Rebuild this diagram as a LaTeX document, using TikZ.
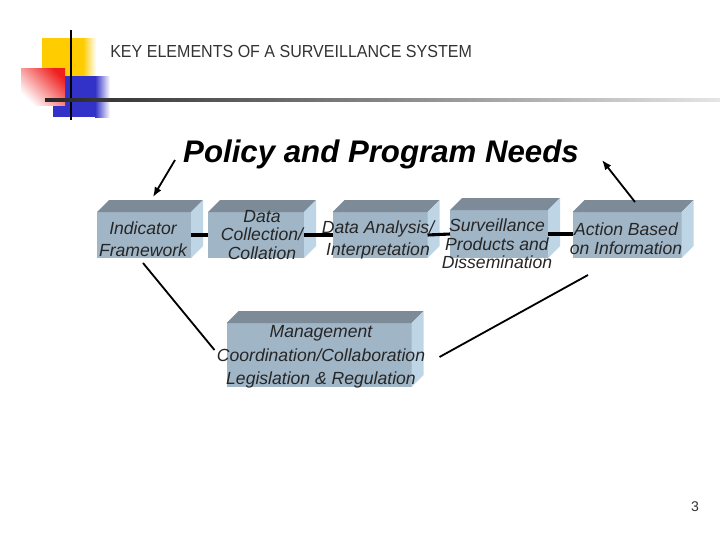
\documentclass[tikz,border=0pt]{standalone}
\usepackage{fontspec}
\usepackage{graphicx}
\setmainfont{Liberation Sans}
\usetikzlibrary{arrows.meta,calc}

\definecolor{boxfront}{RGB}{160,181,198}
\definecolor{boxtop}{RGB}{124,139,151}
\definecolor{boxside}{RGB}{190,213,229}
\definecolor{logoyellow}{RGB}{255,204,0}
\definecolor{logored}{RGB}{240,30,30}
\definecolor{logoblue}{RGB}{50,50,200}

\tikzset{
  face/.style 2 args={fill=boxfront, inner sep=0pt, outer sep=0pt,
    minimum width=#1*0.025cm, minimum height=#2*0.025cm},
  boxlabel/.style={align=center, text=black!85, inner sep=0pt,
    font=\fontsize{12.5}{13.3}\selectfont\itshape},
  widelabel/.style={boxlabel, font=\fontsize{12.5}{15.6}\selectfont\itshape},
  link/.style={line width=2.2pt},
  pointer/.style={line width=1.3pt, -{Latex[length=7pt,width=5.5pt]}},
  tie/.style={line width=1.3pt},
}

% top and side of a block
\newcommand{\cubeface}[1]{%
  \fill[boxtop] (#1.north west) -- ++(12,-12) -- ($(#1.north east)+(12,-12)$) -- (#1.north east) -- cycle;
  \fill[boxside] (#1.north east) -- ++(12,-12) -- ($(#1.south east)+(12,-12)$) -- (#1.south east) -- cycle;
}

\begin{document}
\begin{tikzpicture}[x=0.025cm, y=-0.025cm]
  \useasboundingbox (0,0) rectangle (720,540);
  % Logo squares
  \fill[logoyellow] (42,38) rectangle (83,76);
  \shade[left color=logoyellow, right color=white] (83,38) rectangle (96,76);
  \fill[logoblue] (53,76) rectangle (95,117);
  \shade[left color=logoblue, right color=white] (95,76) rectangle (110,117);
  \shade[left color=white, right color=logored, shading angle=135] (21,68) rectangle (65,105);
  % Logo lines
  \draw[line width=1.6pt] (71,30) -- (71,120);
  \shade[left color=black!85, right color=black!10] (45,98.5) rectangle (720,101.5);
  % Headings
  \node[anchor=west, inner sep=0pt, text=black!80, font=\fontsize{12.4}{14}\selectfont] (head) at (110,51)
    {\scalebox{0.92}[1]{KEY ELEMENTS OF A SURVEILLANCE SYSTEM}};
  \node[anchor=base, inner sep=0pt, font=\fontsize{22.2}{26}\selectfont\bfseries\itshape] (needs) at (381,162)
    {Policy and Program Needs};
  % Blocks
  \node[face={94}{46}] (ind) at (144,235) {};
  \node[face={96}{46}] (coll) at (256,235) {};
  \node[face={95}{46}] (ana) at (380,235) {};
  \node[face={98}{48}] (surv) at (499,234) {};
  \node[face={109}{46}] (act) at (627,235) {};
  \node[face={185}{64}] (mgmt) at (319,355) {};
  \foreach \b in {ind,coll,ana,surv,act,mgmt}
    {\cubeface{\b}}
  % Block texts
  \node[widelabel] (indtxt) at (143,239) {Indicator\\Framework};
  \node[boxlabel] (colltxt) at (262,235) {Data\\Collection/\\Collation};
  \node[widelabel] (anatxt) at (378,240) {Data Analysis/\\Interpretation};
  \node[boxlabel] (survtxt) at (497,244) {Surveillance\\Products and\\Dissemination};
  \node[boxlabel] (acttxt) at (626,239) {Action Based\\on Information};
  \node[boxlabel, font=\fontsize{12.5}{16.7}\selectfont\itshape] (mgmttxt) at (321,357)
    {Management\\Coordination/Collaboration\\Legislation \& Regulation};
  % Links between blocks
  \draw[link] (ind.east) -- (coll.west);
  \draw[link] (coll.east) -- (ana.west);
  \draw[link] (ana.east) -- (surv.west);
  \draw[link] (surv.east) -- (surv.east -| act.west);
  % Arrows and ties
  \coordinate (needsl) at (175,160);
  \coordinate (needsr) at (602,160);
  \coordinate (actlow) at (588,275);
  \draw[pointer] (needsl) -- ($(ind.north)+(9,-15)$);
  \draw[pointer] ($(act.north)+(8,-10)$) -- (needsr);
  \draw[tie] ($(ind.south)+(-1,5)$) -- ($(mgmt.west)+(-12,-5)$);
  \draw[tie] (actlow) -- ($(mgmt.east)+(28,2)$);
  % Page number
  \node[text=black!80, font=\fontsize{10}{12}\selectfont] (pg) at (695,507) {3};
\end{tikzpicture}
\end{document}
